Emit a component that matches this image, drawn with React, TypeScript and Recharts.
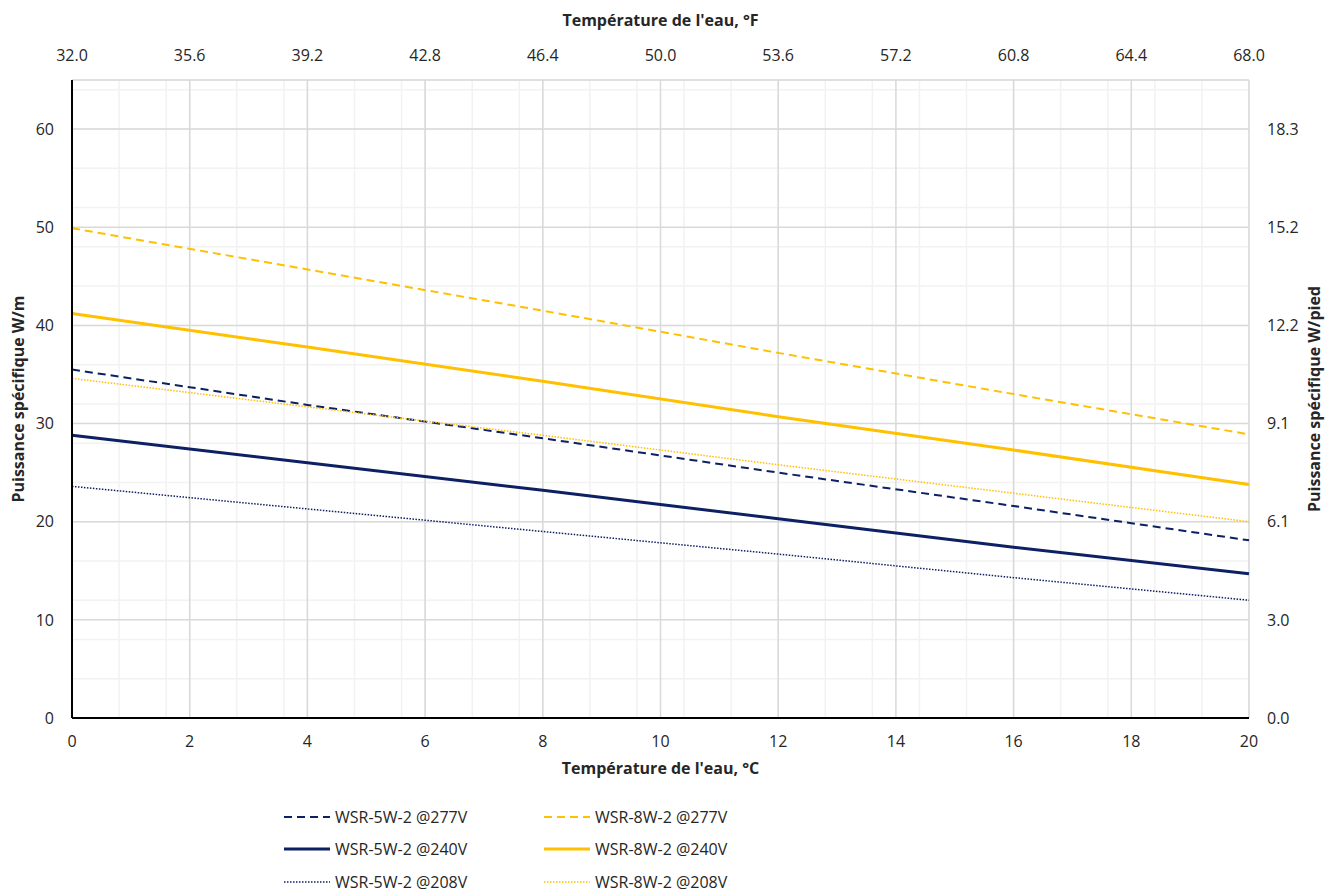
import React from "react";
import { LineChart, Line, XAxis, YAxis, CartesianGrid } from "recharts";

// Water temperature, °C
const tempC = [0, 4, 8, 12, 16, 20];
// Specific power, W/m
const wsr5w277 = [35.5, 31.9, 28.5, 25.0, 21.6, 18.1];
const wsr5w240 = [28.8, 26.0, 23.2, 20.3, 17.4, 14.7];
const wsr5w208 = [23.6, 21.3, 19.0, 16.7, 14.3, 12.0];
const wsr8w277 = [49.9, 45.7, 41.5, 37.2, 33.0, 28.9];
const wsr8w240 = [41.2, 37.8, 34.3, 30.7, 27.3, 23.8];
const wsr8w208 = [34.6, 31.7, 28.8, 25.8, 22.9, 20.0];

// Tick labels
const ticksC = [0, 2, 4, 6, 8, 10, 12, 14, 16, 18, 20];
const ticksF = [32.0, 35.6, 39.2, 42.8, 46.4, 50.0, 53.6, 57.2, 60.8, 64.4, 68.0];
const ticksWm = [0, 10, 20, 30, 40, 50, 60];
const M_TO_FT = 0.3048;
const ticksWft = ticksWm.map((v) => v * M_TO_FT);
const Y_MAX = 65;

// Minor grid positions
const minorX = Array.from({ length: 51 }, (_, i) => +(i * 0.4).toFixed(1));
const minorY = Array.from({ length: 33 }, (_, i) => i * 2);

const NAVY = "#0c2063";
const GOLD = "#FFC000";
const FONT = "'Open Sans', 'Noto Sans', sans-serif";
const TEXT = "#262626";

const data = tempC.map((t, i) => ({
  t,
  f: t * 1.8 + 32,
  s5_277: wsr5w277[i],
  s5_240: wsr5w240[i],
  s5_208: wsr5w208[i],
  s8_277: wsr8w277[i],
  s8_240: wsr8w240[i],
  s8_208: wsr8w208[i],
}));

type S = { key: string; name: string; color: string; width: number; dash?: string };
const series: S[] = [
  { key: "s5_277", name: "WSR-5W-2 @277V", color: NAVY, width: 2, dash: "8 5" },
  { key: "s5_240", name: "WSR-5W-2 @240V", color: NAVY, width: 3 },
  { key: "s5_208", name: "WSR-5W-2 @208V", color: NAVY, width: 1.5, dash: "1.5 1.5" },
  { key: "s8_277", name: "WSR-8W-2 @277V", color: GOLD, width: 2, dash: "8 5" },
  { key: "s8_240", name: "WSR-8W-2 @240V", color: GOLD, width: 3 },
  { key: "s8_208", name: "WSR-8W-2 @208V", color: GOLD, width: 1.5, dash: "1.5 1.5" },
];

const tickStyle = { fontSize: 16, fill: TEXT, fontFamily: FONT };

const titleStyle: React.CSSProperties = {
  fontSize: 16,
  fontWeight: 700,
  fill: TEXT,
  fontFamily: FONT,
};

const makeLabel =
  (text: string, kind: "left" | "right" | "top" | "bottom") =>
  (props: any) => {
    const vb = props.viewBox || {};
    let x = 0;
    let y = 0;
    let rot = 0;
    if (kind === "left") {
      x = vb.x + 10;
      y = vb.y + vb.height / 2;
      rot = -90;
    } else if (kind === "right") {
      x = vb.x + 65;
      y = vb.y + vb.height / 2;
      rot = -90;
    } else if (kind === "top") {
      x = vb.x + vb.width / 2;
      y = vb.y + 12;
    } else {
      x = vb.x + vb.width / 2;
      y = vb.y + 50;
    }
    return (
      <text
        x={x}
        y={y}
        textAnchor="middle"
        dominantBaseline="central"
        transform={rot ? `rotate(${rot} ${x} ${y})` : undefined}
        style={titleStyle}
      >
        {text}
      </text>
    );
  };

const LegendBlock = () => {
  const cols = [series.slice(0, 3), series.slice(3, 6)];
  const colX = [276, 536];
  const rowY = [809, 841, 874];
  return (
    <>
      {cols.map((col, ci) =>
        col.map((s, ri) => (
          <div
            key={s.key}
            style={{
              position: "absolute",
              left: colX[ci],
              top: rowY[ri] - 10,
              height: 20,
              display: "flex",
              alignItems: "center",
              whiteSpace: "nowrap",
              fontFamily: FONT,
            }}
          >
            <svg width={48} height={20} style={{ display: "block" }}>
              <line
                x1={0}
                y1={10}
                x2={46}
                y2={10}
                stroke={s.color}
                strokeWidth={s.width}
                strokeDasharray={s.dash}
              />
            </svg>
            <span style={{ fontSize: 16, color: TEXT, marginLeft: 3, lineHeight: "20px" }}>{s.name}</span>
          </div>
        ))
      )}
    </>
  );
};

export default function App() {
  return (
    <div style={{ position: "relative", width: 1322, height: 884 }}>
      <LineChart
        width={1322}
        height={884}
        data={data}
        margin={{ top: 0, right: 0, bottom: 104, left: 0 }}
      >
        <XAxis xAxisId="minorX" dataKey="t" type="number" domain={[0, 20]} ticks={minorX} hide />
        <YAxis yAxisId="minorY" type="number" domain={[0, Y_MAX]} allowDataOverflow ticks={minorY} hide />
        <CartesianGrid xAxisId="minorX" yAxisId="minorY" stroke="#f2f2f2" strokeWidth={1.5} />
        <CartesianGrid xAxisId="c" yAxisId="m" stroke="#d9d9d9" strokeWidth={1.5} />

        <XAxis
          xAxisId="c"
          dataKey="t"
          type="number"
          domain={[0, 20]}
          ticks={ticksC}
          height={70}
          tickLine={false}
          tickMargin={12}
          axisLine={{ stroke: "#000", strokeWidth: 2 }}
          tick={tickStyle}
          interval={0}
          label={makeLabel("Température de l'eau, °C", "bottom")}
        />
        <XAxis
          xAxisId="f"
          dataKey="f"
          orientation="top"
          type="number"
          domain={[32, 68]}
          allowDataOverflow
          ticks={ticksF}
          height={72}
          tickLine={false}
          tickMargin={13}
          axisLine={false}
          tick={tickStyle}
          interval={0}
          tickFormatter={(v: number) => v.toFixed(1)}
          label={makeLabel("Température de l'eau, °F", "top")}
        />
        <YAxis
          yAxisId="m"
          type="number"
          domain={[0, Y_MAX]}
          ticks={ticksWm}
          width={64}
          tickLine={false}
          tickMargin={12}
          axisLine={{ stroke: "#000", strokeWidth: 2 }}
          tick={tickStyle}
          interval={0}
          label={makeLabel("Puissance spécifique W/m", "left")}
        />
        <YAxis
          yAxisId="ft"
          orientation="right"
          type="number"
          domain={[0, Y_MAX * M_TO_FT]}
          allowDataOverflow
          ticks={ticksWft}
          width={81}
          tickLine={false}
          tickMargin={12}
          axisLine={false}
          tick={tickStyle}
          interval={0}
          tickFormatter={(v: number) => v.toFixed(1)}
          label={makeLabel("Puissance spécifique W/pied", "right")}
        />

        {/* invisible carriers so the °F axis and minor grid axes get their scales */}
        <Line
          xAxisId="f"
          yAxisId="m"
          type="linear"
          dataKey="s8_277"
          stroke="transparent"
          strokeWidth={0}
          dot={false}
          activeDot={false}
          legendType="none"
          isAnimationActive={false}
        />
        <Line
          xAxisId="minorX"
          yAxisId="minorY"
          type="linear"
          dataKey="s8_277"
          stroke="transparent"
          strokeWidth={0}
          dot={false}
          activeDot={false}
          legendType="none"
          isAnimationActive={false}
        />

        {series.map((s) => (
          <Line
            key={s.key}
            xAxisId="c"
            yAxisId="m"
            type="linear"
            dataKey={s.key}
            name={s.name}
            stroke={s.color}
            strokeWidth={s.width}
            strokeDasharray={s.dash}
            dot={false}
            activeDot={false}
            isAnimationActive={false}
          />
        ))}
      </LineChart>
      <LegendBlock />
    </div>
  );
}
